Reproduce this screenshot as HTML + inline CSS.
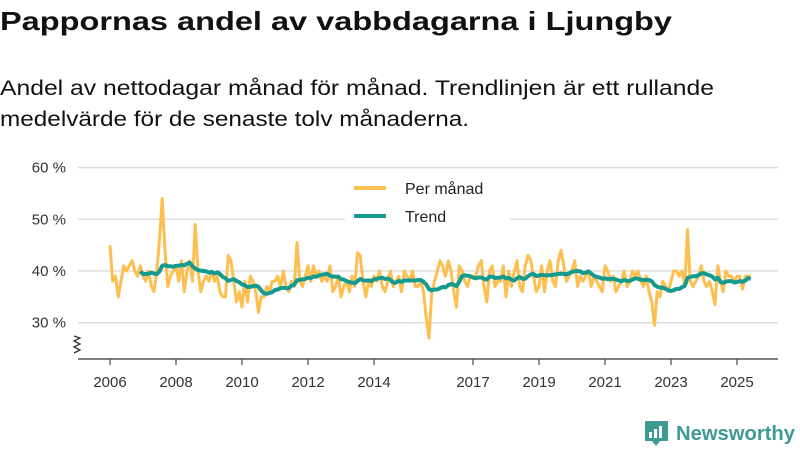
<!DOCTYPE html>
<html><head><meta charset="utf-8"><style>
html,body{margin:0;padding:0;background:#fff;width:800px;height:450px;overflow:hidden}
svg{display:block;font-family:"Liberation Sans","DejaVu Sans",sans-serif}
</style></head><body>
<svg id="chart" width="800" height="450" viewBox="0 0 800 450">
<text x="0" y="30" font-size="26" font-weight="bold" fill="#111" textLength="672" lengthAdjust="spacingAndGlyphs">Pappornas andel av vabbdagarna i Ljungby</text>
<text x="0" y="95" font-size="21" fill="#111" textLength="714" lengthAdjust="spacingAndGlyphs">Andel av nettodagar månad för månad. Trendlinjen är ett rullande</text>
<text x="0" y="126" font-size="21" fill="#111" textLength="469" lengthAdjust="spacingAndGlyphs">medelvärde för de senaste tolv månaderna.</text>
<g id="grid"></g>
<g id="yaxis"></g>
<g id="xaxis"></g>
<path d="M74 336 l6 2 -6 3 6 3 -6 3 6 3 -6 3" fill="none" stroke="#333" stroke-width="1.3"/>
<g id="series"></g>
<g>
<rect x="345" y="176" width="165" height="50" fill="#fff"/>
<line x1="354" y1="188" x2="386" y2="188" stroke="#fdbf4f" stroke-width="4"/>
<text x="405" y="194" font-size="16" fill="#222">Per månad</text>
<line x1="354" y1="216" x2="386" y2="216" stroke="#149a8e" stroke-width="4"/>
<text x="405" y="222" font-size="16" fill="#222">Trend</text>
</g>
<g>
<path d="M645 421 h23 v20 h-8 l-4 5 -4 -5 h-7 z" fill="#3d9a94"/>
<rect x="649" y="432" width="3" height="6" fill="#fff"/><rect x="654" y="429" width="3" height="9" fill="#fff"/><rect x="659" y="426" width="3" height="12" fill="#fff"/>
<text x="676" y="440" font-size="20" font-weight="bold" fill="#3d9a94" textLength="119" lengthAdjust="spacingAndGlyphs">Newsworthy</text>
</g>
</svg>
<script>
const yTicks=[30,40,50,60];
const yTickLabels=["30 %","40 %","50 %","60 %"];
const xTicks=[2006,2008,2010,2012,2014,2017,2019,2021,2023,2025];
const startYear=2006;
const perManad=[
45,38,39,35,38,41,40,41,42,40,39,41,
39,38,40,37,36,40,46,54,44,37,39,40,
41,38,42,36,40,42,38,49,40,36,38,39,
38,40,38,39,36,35,35,43,42,38,34,36,
33,38,34,39,38,36,32,35,35,37,36,38,
38,39,37,40,37,36,38,37,45.5,38,37,39,
41,38,41,39,40,38,39,38,41,36,37,39,
35,37,38,36,39,37,43.5,43,38,35,38,37,
39,38,40,37,36,38,40,37,38,39,36,40,
39,38,40,37,37,38,36,31,27,36,38,40,
42,41,39,42,40,36,33,41,40,38,37,39,
39,39,41,42,37,34,40,41,37,38,38,41,
35,40,37,40,42,37,36,41,43,42,39,36,
37,41,36,40,42,38,37,42,44,41,38,39,
40,42,37,39,38,39,40,37,39,38,37,36,
41,40,38,39,36,37,38,40,37,38,40,39,
40,38,37,39,36,34,29.5,36,35,38,37,36,
38,40,40,39,40,37,48,38,37,38,39,41,
38,37,38,36,33.5,41,38,36,40,39,39,38,
39,39,36.5,39,39,39
];
const trendWindow=12;
const X=y=>110+(y-2006)*33, Y=v=>271-(v-40)*5.17;
const NS="http://www.w3.org/2000/svg";
function mk(tag,attrs,parent){const e=document.createElementNS(NS,tag);for(const k in attrs)e.setAttribute(k,attrs[k]);parent.appendChild(e);return e;}
const grid=document.getElementById('grid'),ya=document.getElementById('yaxis'),xa=document.getElementById('xaxis'),ser=document.getElementById('series');
yTicks.forEach((t,i)=>{
 const l=mk('line',{x1:78,x2:778,y1:Y(t),y2:Y(t),stroke:'#ddd','stroke-width':1.5},grid);
 
 
 const tx=mk('text',{x:66,y:Y(t)+5,'font-size':15,fill:'#333','text-anchor':'end'},ya);
 tx.textContent=yTickLabels[i];
 
 
});
const ax=mk('line',{x1:78,x2:778,y1:359,y2:359,stroke:'#555','stroke-width':1.5},xa);


xTicks.forEach(t=>{
 const tk=mk('line',{x1:X(t),x2:X(t),y1:359,y2:365,stroke:'#555','stroke-width':1.3},xa);
 
 
 const tx=mk('text',{x:X(t),y:387,'font-size':15,fill:'#333','text-anchor':'middle'},xa);
 tx.textContent=t;
 
 
});
const tOf=i=>startYear+i/12;
const p1=mk('polyline',{points:perManad.map((v,i)=>X(tOf(i)).toFixed(1)+','+Y(v).toFixed(1)).join(' '),fill:'none',stroke:'#fdbf4f','stroke-width':3,'stroke-linejoin':'round'},ser);


const tr=[];
for(let i=trendWindow-1;i<perManad.length;i++){let s=0;for(let j=i-trendWindow+1;j<=i;j++)s+=perManad[j];tr.push(X(tOf(i)).toFixed(1)+','+Y(s/trendWindow).toFixed(1));}
const p2=mk('polyline',{points:tr.join(' '),fill:'none',stroke:'#149a8e','stroke-width':4,'stroke-linejoin':'round'},ser);


</script>
</body></html>
